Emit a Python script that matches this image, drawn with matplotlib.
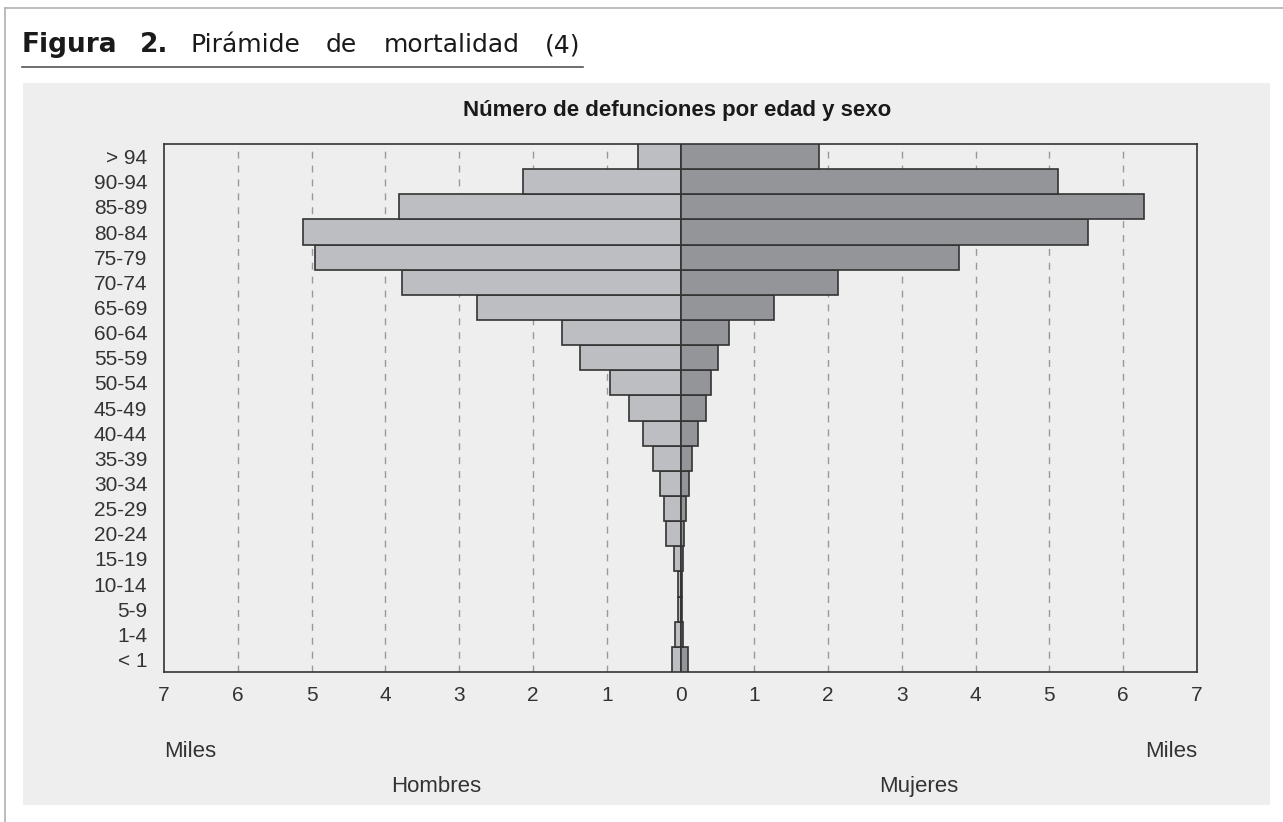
import matplotlib
matplotlib.use("Agg")
import matplotlib.pyplot as plt
from matplotlib.patches import Rectangle
from matplotlib.lines import Line2D

plt.rcParams['font.family'] = ['Liberation Sans', 'DejaVu Sans']

age_groups = ["< 1", "1-4", "5-9", "10-14", "15-19", "20-24", "25-29", "30-34",
              "35-39", "40-44", "45-49", "50-54", "55-59", "60-64", "65-69",
              "70-74", "75-79", "80-84", "85-89", "90-94", "> 94"]
hombres = [0.12, 0.07, 0.03, 0.04, 0.09, 0.19, 0.22, 0.28, 0.37, 0.51, 0.70,
           0.96, 1.36, 1.60, 2.76, 3.78, 4.95, 5.11, 3.81, 2.13, 0.57]
mujeres = [0.10, 0.03, 0.015, 0.015, 0.03, 0.05, 0.08, 0.11, 0.16, 0.24, 0.35,
           0.41, 0.51, 0.66, 1.27, 2.14, 3.78, 5.52, 6.28, 5.11, 1.88]
x_ticks = [-7, -6, -5, -4, -3, -2, -1, 0, 1, 2, 3, 4, 5, 6, 7]
x_ticklabels = [str(abs(t)) for t in x_ticks]

W, H = 1283, 822
fig = plt.figure(figsize=(W / 100, H / 100), dpi=100)
fig.patch.set_facecolor('white')

def fx(px):
    return px / W

def fy(py):
    return 1 - py / H

# outer frame lines
fig.add_artist(Line2D([fx(5), 1], [fy(8), fy(8)], color='#b0b0b0', lw=1.2))
fig.add_artist(Line2D([fx(5), fx(5)], [0, fy(8)], color='#b0b0b0', lw=1.2))

# gray panel
fig.add_artist(Rectangle((fx(23), fy(805)), fx(1270 - 23), (805 - 83) / H,
                         facecolor='#eeeeee', edgecolor='none', zorder=0))

# heading, word by word
renderer = fig.canvas.get_renderer()
words = [("Figura", 'bold', 19), ("2.", 'bold', 19), ("Pirámide", 'normal', 18),
         ("de", 'normal', 18), ("mortalidad", 'normal', 18), ("(4)", 'normal', 18)]
gaps = [22, 22, 26, 26, 26]
xpos = 22
for i, (w, wt, fs) in enumerate(words):
    t = fig.text(fx(xpos), fy(52), w, fontsize=fs, fontweight=wt, va='baseline',
                 ha='left', color='#1a1a1a', family='DejaVu Sans')
    bb = t.get_window_extent(renderer=renderer)
    xpos = bb.x1
    if i < len(gaps):
        xpos += gaps[i]
fig.add_artist(Line2D([fx(22), fx(xpos + 2)], [fy(67), fy(67)], color='#555555', lw=1.2))

ax = fig.add_axes([fx(164), fy(672), fx(1197 - 164), (672 - 144) / H])
ax.set_facecolor('#eeeeee')

y = list(range(len(age_groups)))
ax.barh(y, [-v for v in hombres], height=1.0, color='#bdbec1', edgecolor='#333333',
        linewidth=1.2, zorder=3)
ax.barh(y, mujeres, height=1.0, color='#939598', edgecolor='#333333',
        linewidth=1.2, zorder=3)

ax.set_xlim(-7, 7)
ax.set_ylim(-0.5, len(age_groups) - 0.5)
ax.set_xticks(x_ticks)
ax.set_xticklabels(x_ticklabels, fontsize=15, color='#333333')
ax.set_yticks(y)
ax.set_yticklabels(age_groups, fontsize=15, color='#333333')
ax.tick_params(axis='both', length=0)
ax.tick_params(axis='y', pad=12)
ax.tick_params(axis='x', pad=10)
for t in x_ticks[1:-1]:
    if t != 0:
        ax.axvline(t, color='#999999', lw=1, ls=(0, (5, 5)), zorder=1)
for s in ax.spines.values():
    s.set_color('#333333')
    s.set_linewidth(1.2)

fig.text(fx(677), fy(116), "Número de defunciones por edad y sexo", fontsize=16,
         fontweight='bold', ha='center', va='baseline', color='#1a1a1a')
fig.text(fx(164), fy(751), "Miles", fontsize=16, ha='left', va='center', color='#333333')
fig.text(fx(1197), fy(751), "Miles", fontsize=16, ha='right', va='center', color='#333333')
fig.text(fx(436), fy(786), "Hombres", fontsize=16, ha='center', va='center', color='#333333')
fig.text(fx(919), fy(786), "Mujeres", fontsize=16, ha='center', va='center', color='#333333')

fig.savefig("out.png", dpi=100)
